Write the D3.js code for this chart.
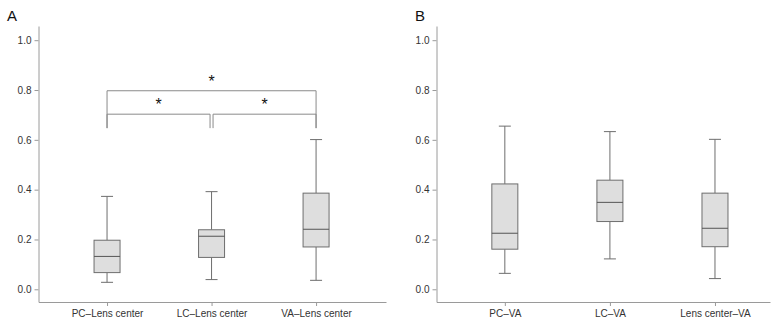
<!DOCTYPE html>
<html>
<head>
<meta charset="utf-8">
<script src="https://cdn.jsdelivr.net/npm/d3@7"></script>
<style>
    body { margin: 0; background: #fff; }
    text { font-family: "Liberation Sans", Arial, sans-serif; }
</style>
</head>
<body>
<div id="chart"></div>
<script>
// panel A: distances to lens center
const categoriesA = ["PC\u2013Lens center", "LC\u2013Lens center", "VA\u2013Lens center"];
const minA = [0.028, 0.039, 0.036];
const q1A = [0.067, 0.128, 0.170];
const medianA = [0.132, 0.213, 0.241];
const q3A = [0.197, 0.239, 0.386];
const maxA = [0.373, 0.392, 0.601];

// panel B: distances to VA
const categoriesB = ["PC\u2013VA", "LC\u2013VA", "Lens center\u2013VA"];
const minB = [0.064, 0.122, 0.043];
const q1B = [0.161, 0.272, 0.171];
const medianB = [0.225, 0.349, 0.245];
const q3B = [0.423, 0.438, 0.386];
const maxB = [0.655, 0.633, 0.602];

const yTicks = [0, 0.2, 0.4, 0.6, 0.8, 1.0];

// significance brackets in panel A (category indexes)
const bracketFrom = [0, 0, 1];
const bracketTo = [2, 1, 2];
const bracketLevel = [0.797, 0.703, 0.703];
const bracketFoot = 0.647;

const width = 778, height = 325;
const svg = d3.select("#chart").append("svg")
    .attr("width", width)
    .attr("height", height);

function drawPanel(opts) {
    let g = svg.append("g");

    let y = d3.scaleLinear()
        .domain([-0.051, 1.057])
        .range([302, 26]);

    let x = d3.scalePoint()
        .domain(opts.categories)
        .range([opts.left, opts.right])
        .padding(opts.padding)
        .align(opts.align);

    // y axis
    let yAxis = g.append("g")
        .attr("transform", `translate(${opts.left},0)`)
        .call(d3.axisLeft(y).tickValues(yTicks).tickFormat(d3.format(".1f")).tickSize(4).tickSizeOuter(0).tickPadding(3));

    // x axis
    let xAxis = g.append("g")
        .attr("transform", `translate(0,302)`)
        .call(d3.axisBottom(x).tickSize(4).tickSizeOuter(0).tickPadding(4));

    [yAxis, xAxis].forEach(ax => {
        ax.select(".domain").attr("stroke", "#9a9a9a");
        ax.selectAll(".tick line").attr("stroke", "#9a9a9a");
        ax.selectAll(".tick text").attr("fill", "#333").style("font-size", "10px");
    });

    let data = opts.categories.map((c, i) => ({
        cat: c, min: opts.min[i], q1: opts.q1[i], med: opts.median[i], q3: opts.q3[i], max: opts.max[i]
    }));

    let boxW = 26, capW = 12;
    let stroke = "#6e6e6e";

    let box = g.selectAll(".box")
        .data(data)
        .enter()
        .append("g")
        .attr("class", "box");

    // whiskers
    box.append("line")
        .attr("x1", d => x(d.cat)).attr("x2", d => x(d.cat))
        .attr("y1", d => y(d.max)).attr("y2", d => y(d.q3))
        .attr("stroke", stroke);
    box.append("line")
        .attr("x1", d => x(d.cat)).attr("x2", d => x(d.cat))
        .attr("y1", d => y(d.q1)).attr("y2", d => y(d.min))
        .attr("stroke", stroke);
    // caps
    box.append("line")
        .attr("x1", d => x(d.cat) - capW / 2).attr("x2", d => x(d.cat) + capW / 2)
        .attr("y1", d => y(d.max)).attr("y2", d => y(d.max))
        .attr("stroke", stroke);
    box.append("line")
        .attr("x1", d => x(d.cat) - capW / 2).attr("x2", d => x(d.cat) + capW / 2)
        .attr("y1", d => y(d.min)).attr("y2", d => y(d.min))
        .attr("stroke", stroke);
    // box
    box.append("rect")
        .attr("x", d => x(d.cat) - boxW / 2)
        .attr("width", boxW)
        .attr("y", d => y(d.q3))
        .attr("height", d => y(d.q1) - y(d.q3))
        .attr("fill", "#dedede")
        .attr("stroke", stroke);
    // median
    box.append("line")
        .attr("x1", d => x(d.cat) - boxW / 2).attr("x2", d => x(d.cat) + boxW / 2)
        .attr("y1", d => y(d.med)).attr("y2", d => y(d.med))
        .attr("stroke", "#555");

    // panel letter
    g.append("text")
        .attr("x", opts.labelX)
        .attr("y", 21)
        .text(opts.label)
        .attr("fill", "#111")
        .style("font-size", "15px");

    return { g, x, y };
}

let panelA = drawPanel({
    categories: categoriesA, min: minA, q1: q1A, median: medianA, q3: q3A, max: maxA,
    left: 38.5, right: 386, padding: 0.6625, align: 0.495, label: "A", labelX: 7
});

drawPanel({
    categories: categoriesB, min: minB, q1: q1B, median: medianB, q3: q3B, max: maxB,
    left: 436.5, right: 770, padding: 0.587, align: 0.554, label: "B", labelX: 415
});

// significance brackets
bracketFrom.forEach((f, i) => {
    let x = panelA.x, y = panelA.y;
    let x1 = x(categoriesA[f]), x2 = x(categoriesA[bracketTo[i]]);
    // small gap where two lower brackets meet
    if (bracketLevel[i] < 0.75) {
        if (f === 1) x1 += 1.5;
        else x2 -= 1.5;
    }
    let yl = y(bracketLevel[i]), yf = y(bracketFoot);
    panelA.g.append("path")
        .attr("d", `M${x1},${yf}V${yl}H${x2}V${yf}`)
        .attr("fill", "none")
        .attr("stroke", "#8a8a8a");
    panelA.g.append("text")
        .attr("x", (x1 + x2) / 2)
        .attr("y", yl - 4)
        .attr("text-anchor", "middle")
        .text("*")
        .attr("fill", "#111")
        .style("font-size", "16px");
});
</script>
</body>
</html>
